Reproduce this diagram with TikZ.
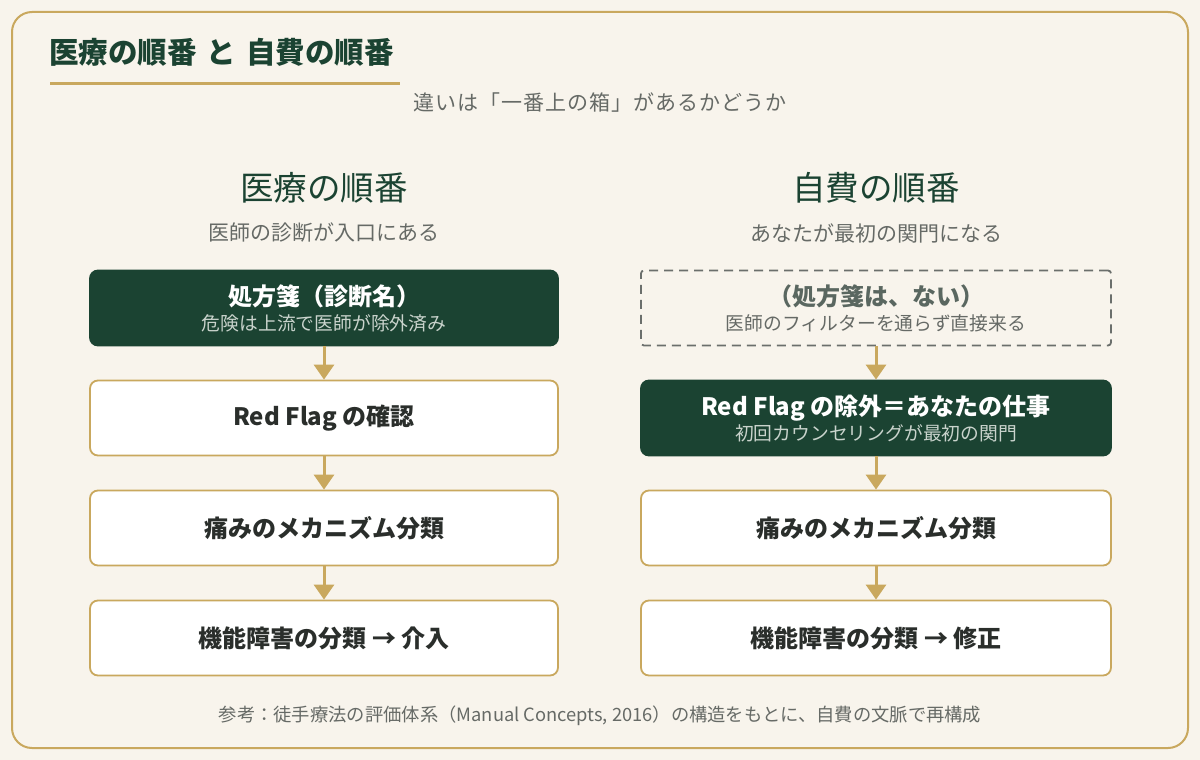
\documentclass[tikz,border=0pt]{standalone}
\usepackage{fontspec}
\setmainfont{Noto Sans CJK JP}
\usetikzlibrary{arrows.meta}
\definecolor{bg}{HTML}{F8F4EC}
\definecolor{gold}{HTML}{C9A85E}
\definecolor{dgreen}{HTML}{1B4332}
\definecolor{txtgray}{HTML}{666A66}
\definecolor{boxtxt}{HTML}{2A2E2B}
\definecolor{dashgray}{HTML}{6B6F6C}
\definecolor{dashtxt}{HTML}{5A6760}
\definecolor{lightsub}{HTML}{C9D3CC}
\tikzset{
  box/.style={draw=gold, line width=1.8pt, fill=white, rounded corners=8pt,
    minimum height=75pt, inner sep=0pt, align=center, text=boxtxt,
    font=\fontsize{24}{27}\selectfont\bfseries},
  lbox/.style={box, minimum width=468pt},
  rbox/.style={box, minimum width=470pt},
  darkbox/.style={fill=dgreen, draw=dgreen, text=white},
  dashbox/.style={draw=dashgray, fill=none, rounded corners=3pt, dash pattern=on 9pt off 6pt, text=dashtxt},
  flow/.style={draw=gold, line width=3pt, -{Triangle[width=20pt,length=15pt]}},
  heading/.style={font=\fontsize{33.5}{38}\selectfont, text=dgreen},
  subhead/.style={font=\fontsize{21}{25}\selectfont, text=txtgray},
}
\newcommand{\subline}[2]{{\fontsize{18.8}{21}\selectfont\mdseries\color{#1}#2}}
\begin{document}
\begin{tikzpicture}[x=1pt,y=-1pt]
\fill[bg] (0,0) rectangle (1200,760);
\useasboundingbox (0,0) rectangle (1200,760);
\draw[gold, line width=2pt, rounded corners=20pt] (12,12) rectangle (1188,748);

\node[anchor=west, inner sep=0pt, font=\fontsize{29.5}{33}\selectfont\bfseries, text=dgreen] (title) at (49,52) {医療の順番\hspace{10pt}と\hspace{10pt}自費の順番};
\coordinate (ulA) at (50,84);
\coordinate (ulB) at (400,84);
\draw[gold, line width=3pt] (ulA) -- (ulB);
\node[anchor=west, inner sep=0pt, font=\fontsize{21}{25}\selectfont\addfontfeature{LetterSpace=5}, text=txtgray] (subtitle) at (413,103) {違いは「一番上の箱」があるかどうか};

% left column
\node[heading] (lh) at (324,188) {医療の順番};
\node[subhead] (ls) at (324,233) {医師の診断が入口にある};
\node[lbox, darkbox] (l1) at (324,308) {処方箋（診断名）\\[-2pt]\subline{lightsub}{危険は上流で医師が除外済み}};
\node[lbox] (l2) at (324,418) {Red Flag の確認};
\node[lbox] (l3) at (324,528) {痛みのメカニズム分類};
\node[lbox] (l4) at (324,638) {機能障害の分類 → 介入};
\draw[flow] (l1) -- (l2);
\draw[flow] (l2) -- (l3);
\draw[flow] (l3) -- (l4);

% right column
\node[heading] (rh) at (876,188) {自費の順番};
\node[subhead] (rs) at (876,233) {あなたが最初の関門になる};
\node[rbox, dashbox] (r1) at (876,308) {（処方箋は、ない）\\[-2pt]\subline{txtgray}{医師のフィルターを通らず直接来る}};
\node[rbox, darkbox] (r2) at (876,418) {Red Flag の除外＝あなたの仕事\\[-2pt]\subline{lightsub}{初回カウンセリングが最初の関門}};
\node[rbox] (r3) at (876,528) {痛みのメカニズム分類};
\node[rbox] (r4) at (876,638) {機能障害の分類 → 修正};
\draw[flow] (r1) -- (r2);
\draw[flow] (r2) -- (r3);
\draw[flow] (r3) -- (r4);

\node[font=\fontsize{18.3}{21}\selectfont, text=txtgray] (foot) at (600,716) {参考：徒手療法の評価体系（Manual Concepts, 2016）の構造をもとに、自費の文脈で再構成};
\end{tikzpicture}
\end{document}
